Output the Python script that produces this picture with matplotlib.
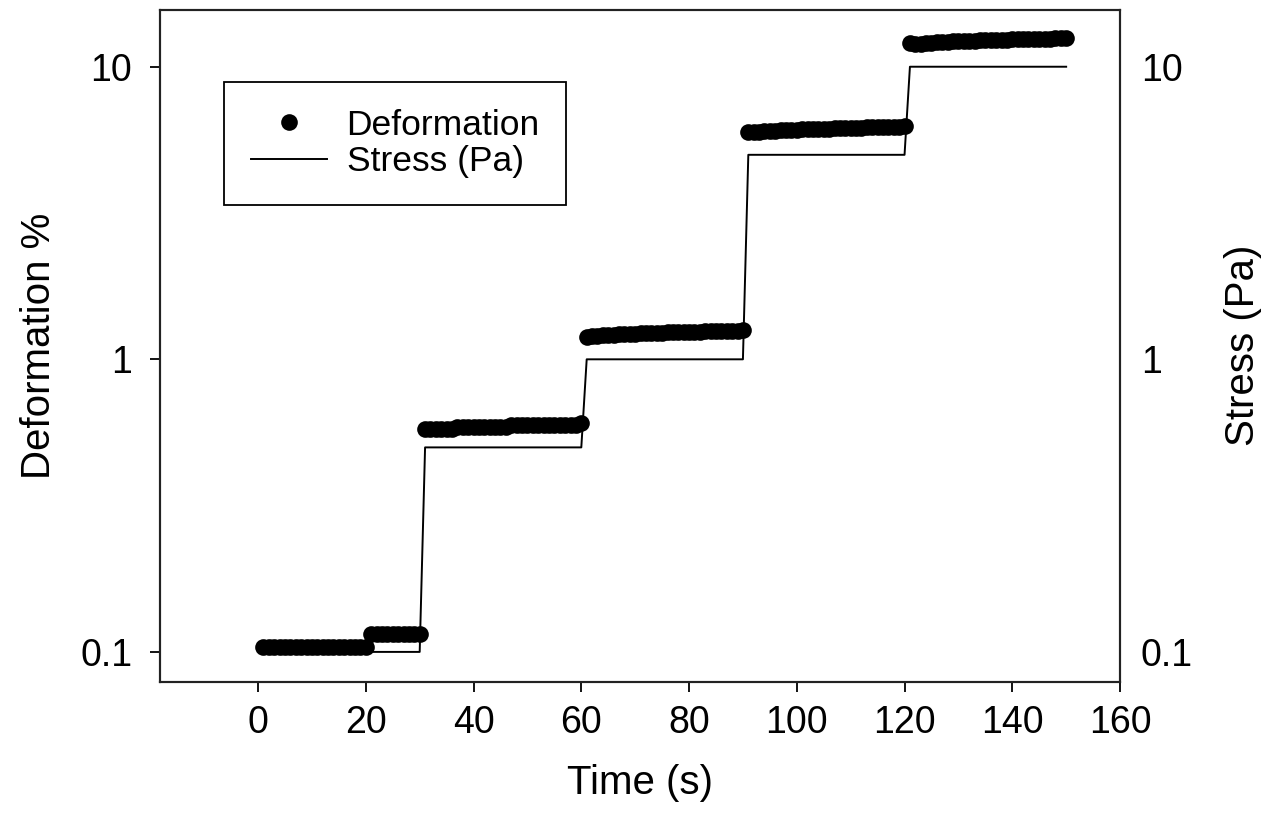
"""
Creep step test: deformation response to stepped shear stress.

Stress is held for 30 s at each level (0.1, 0.5, 1, 5, 10 Pa) and the
resulting deformation is logged once per second.
"""

import matplotlib

matplotlib.use("Agg")
import matplotlib.pyplot as plt
from matplotlib.ticker import FixedLocator, NullLocator

plt.rcParams["font.family"] = ["Liberation Sans", "DejaVu Sans"]

# ---------------------------------------------------------------------------
# Data: one sample per second, 150 s total
# ---------------------------------------------------------------------------
time_s = list(range(1, 151))

stress_levels = [0.1, 0.5, 1.0, 5.0, 10.0]
step_duration = 30

stress_pa = [lvl for lvl in stress_levels for _ in range(step_duration)]

# deformation %, one list per stress step
deform_step1 = [
    0.104, 0.104, 0.104, 0.104, 0.104, 0.104, 0.104, 0.104, 0.104, 0.104,
    0.104, 0.104, 0.104, 0.104, 0.104, 0.104, 0.104, 0.104, 0.104, 0.104,
    0.115, 0.115, 0.115, 0.115, 0.115, 0.115, 0.115, 0.115, 0.115, 0.115,
]
deform_step2 = [
    0.576, 0.576, 0.576, 0.576, 0.576, 0.576, 0.586, 0.586, 0.586, 0.588,
    0.588, 0.588, 0.588, 0.588, 0.588, 0.588, 0.596, 0.596, 0.596, 0.596,
    0.596, 0.596, 0.596, 0.597, 0.597, 0.597, 0.597, 0.597, 0.597, 0.606,
]
deform_step3 = [
    1.19, 1.20, 1.20, 1.21, 1.21, 1.21, 1.22, 1.22, 1.22, 1.22,
    1.23, 1.23, 1.23, 1.23, 1.23, 1.24, 1.24, 1.24, 1.24, 1.24,
    1.24, 1.24, 1.25, 1.25, 1.25, 1.25, 1.25, 1.25, 1.25, 1.26,
]
deform_step4 = [
    5.98, 5.97, 6.00, 6.02, 6.04, 6.05, 6.07, 6.08, 6.09, 6.10,
    6.11, 6.12, 6.13, 6.14, 6.14, 6.15, 6.16, 6.17, 6.17, 6.18,
    6.19, 6.19, 6.20, 6.21, 6.21, 6.22, 6.22, 6.23, 6.23, 6.26,
]
deform_step5 = [
    12.1, 11.95, 12.0, 12.05, 12.1, 12.12, 12.15, 12.18, 12.2, 12.22,
    12.24, 12.26, 12.28, 12.3, 12.32, 12.33, 12.35, 12.36, 12.38, 12.39,
    12.4, 12.42, 12.43, 12.44, 12.46, 12.47, 12.48, 12.5, 12.52, 12.55,
]
deformation_pct = deform_step1 + deform_step2 + deform_step3 + deform_step4 + deform_step5

y_ticks = [0.1, 1, 10]
y_tick_labels = ["0.1", "1", "10"]
x_ticks = [0, 20, 40, 60, 80, 100, 120, 140, 160]

# ---------------------------------------------------------------------------
# Plot
# ---------------------------------------------------------------------------
fig = plt.figure(figsize=(12.66, 8.25), dpi=100)
ax = fig.add_axes([0.1264, 0.1737, 0.7583, 0.8145])

ax.plot(time_s, stress_pa, color="black", lw=1.4, label="Stress (Pa)", zorder=2)
ax.plot(
    time_s, deformation_pct, "o", color="black", ms=12, mew=0,
    label="Deformation", zorder=3,
)

ax.set_yscale("log")
ax.set_xlim(-18.2, 160)
ax.set_ylim(0.0791, 15.66)
ax.xaxis.set_major_locator(FixedLocator(x_ticks))
ax.yaxis.set_major_locator(FixedLocator(y_ticks))
ax.yaxis.set_minor_locator(NullLocator())
ax.set_yticklabels(y_tick_labels)

ax.tick_params(axis="both", which="major", direction="out", length=7,
               width=1.3, labelsize=27)
ax.tick_params(axis="x", pad=10)
ax.tick_params(axis="y", pad=13)
for sp in ax.spines.values():
    sp.set_linewidth(1.5)
    sp.set_color("#222222")

ax.set_xlabel("Time (s)", fontsize=29, labelpad=16)
ax.set_ylabel("Deformation %", fontsize=29, labelpad=16)

# right-hand axis shares the log scale for the stress readout
ax2 = ax.twinx()
ax2.set_yscale("log")
ax2.set_ylim(ax.get_ylim())
ax2.yaxis.set_major_locator(FixedLocator(y_ticks))
ax2.yaxis.set_minor_locator(NullLocator())
ax2.set_yticklabels(y_tick_labels)
ax2.tick_params(axis="y", which="both", length=0, labelsize=27, pad=15)
ax2.set_ylabel("Stress (Pa)", fontsize=29, labelpad=22)
for sp in ax2.spines.values():
    sp.set_linewidth(1.5)
    sp.set_color("#222222")

handles, labels = ax.get_legend_handles_labels()
leg = ax.legend(
    handles[::-1], labels[::-1],
    loc="upper left", bbox_to_anchor=(0.0667, 0.8924),
    fontsize=25.5, frameon=True, fancybox=False, framealpha=1,
    edgecolor="black", borderpad=0.75, labelspacing=0.1,
    handlelength=2.15, handletextpad=0.56, borderaxespad=0,
)
leg.get_frame().set_linewidth(1.3)

fig.savefig("out.png", dpi=100)
